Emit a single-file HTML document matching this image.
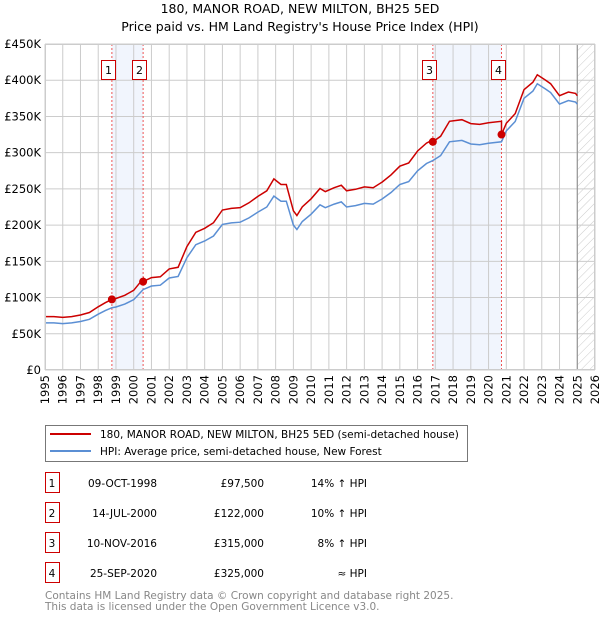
<!DOCTYPE html>
<html><head><meta charset="utf-8"><style>
body{margin:0;background:#fff;font-family:"DejaVu Sans","Liberation Sans",sans-serif;}
svg text{font-family:"DejaVu Sans","Liberation Sans",sans-serif;}
</style></head><body>
<svg id="c" width="600" height="620" viewBox="0 0 600 620" xmlns="http://www.w3.org/2000/svg">
<defs><pattern id="hatch" width="6" height="6" patternUnits="userSpaceOnUse" patternTransform="rotate(45)"><line x1="0" y1="0" x2="0" y2="6" stroke="#ccc" stroke-width="1"/></pattern></defs>
<text x="300" y="13" text-anchor="middle" font-size="12.5">180, MANOR ROAD, NEW MILTON, BH25 5ED</text>
<text x="300" y="31" text-anchor="middle" font-size="12.5">Price paid vs. HM Land Registry's House Price Index (HPI)</text>
<g id="plot"></g>
<g>
<rect x="45.5" y="425.5" width="422" height="36" fill="#fff" stroke="#777"/>
<line x1="50" y1="434" x2="91" y2="434" stroke="#cc0000" stroke-width="2"/>
<text x="100" y="438" font-size="10.5">180, MANOR ROAD, NEW MILTON, BH25 5ED (semi-detached house)</text>
<line x1="50" y1="451" x2="91" y2="451" stroke="#5b8fd4" stroke-width="2"/>
<text x="100" y="455" font-size="10.5">HPI: Average price, semi-detached house, New Forest</text>
</g>
<g id="table" font-size="10.5"></g>
<text x="45" y="599" font-size="10.5" fill="#888">Contains HM Land Registry data © Crown copyright and database right 2025.</text>
<text x="45" y="610" font-size="10.5" fill="#888">This data is licensed under the Open Government Licence v3.0.</text>
</svg>
<script>
const hpiYears=[1995,1995.5,1996,1996.5,1997,1997.5,1998,1998.4,1998.77,1999,1999.5,2000,2000.53,2001,2001.5,2002,2002.5,2003,2003.5,2004,2004.5,2005,2005.5,2006,2006.5,2007,2007.5,2007.9,2008.3,2008.6,2009,2009.2,2009.5,2010,2010.5,2010.8,2011.3,2011.7,2012,2012.5,2013,2013.5,2014,2014.5,2015,2015.5,2016,2016.5,2016.86,2017.3,2017.8,2018.5,2019,2019.5,2020,2020.73,2021,2021.5,2022,2022.5,2022.75,2023.2,2023.5,2024,2024.5,2024.9,2025.0];
const hpiValues=[65,65,64,65,67,70,77,82,86,87,91,97,111,116,117,127,129,155,173,178,185,201,203,204,210,218,225,240,233,233,200,194,205,215,228,224,229,232,225,227,230,229,236,245,256,260,275,285,289,296,315,317,312,311,313,315,330,343,375,385,395,388,383,367,372,370,367];
const saleLabels=["1","2","3","4"];
const saleDates=[1998.77,2000.53,2016.86,2020.73];
const saleDateText=["09-OCT-1998","14-JUL-2000","10-NOV-2016","25-SEP-2020"];
const salePrices=[97500,122000,315000,325000];
const salePriceText=["£97,500","£122,000","£315,000","£325,000"];
const saleHpiText=["14% ↑ HPI","10% ↑ HPI","8% ↑ HPI","≈ HPI"];
const yTicks=[0,50,100,150,200,250,300,350,400,450];
const yTickLabels=["£0","£50K","£100K","£150K","£200K","£250K","£300K","£350K","£400K","£450K"];
const xTicks=[1995,1996,1997,1998,1999,2000,2001,2002,2003,2004,2005,2006,2007,2008,2009,2010,2011,2012,2013,2014,2015,2016,2017,2018,2019,2020,2021,2022,2023,2024,2025,2026];

const X0=45,X1=595,Y0=370,Y1=44,xMin=1995,xMax=2026,yMax=450;
const xs=v=>X0+(v-xMin)/(xMax-xMin)*(X1-X0);
const ys=v=>Y0-v/yMax*(Y0-Y1);
const NS="http://www.w3.org/2000/svg";
const plot=document.getElementById('plot');
function mk(tag,attrs,parent){const e=document.createElementNS(NS,tag);for(const k in attrs)e.setAttribute(k,attrs[k]);(parent||plot).appendChild(e);return e;}
function hpiAt(t){for(let i=1;i<hpiYears.length;i++){if(t<=hpiYears[i]){const f=(t-hpiYears[i-1])/(hpiYears[i]-hpiYears[i-1]);return hpiValues[i-1]+f*(hpiValues[i]-hpiValues[i-1]);}}return hpiValues[hpiValues.length-1];}

for(let i=0;i<saleDates.length;i+=2){
 const r=mk('rect',{x:xs(saleDates[i]),y:Y1,width:xs(saleDates[i+1])-xs(saleDates[i]),height:Y0-Y1,fill:'#eef3fc',opacity:0.8});
 
 
}
const h=mk('rect',{x:xs(2025),y:Y1,width:X1-xs(2025),height:Y0-Y1,fill:'url(#hatch)'});


yTicks.forEach((v,i)=>{
 const l=mk('line',{x1:X0,x2:X1,y1:ys(v),y2:ys(v),stroke:'#ccc','stroke-width':1});
 
 
 const t=mk('text',{x:X0-4,y:ys(v)+4,'text-anchor':'end','font-size':11.5});
 t.textContent=yTickLabels[i];
 
 
});
xTicks.forEach(v=>{
 const l=mk('line',{x1:xs(v),x2:xs(v),y1:Y1,y2:Y0,stroke:'#ccc','stroke-width':1});
 
 
 const t=mk('text',{x:0,y:0,'text-anchor':'end','font-size':11.5,transform:`translate(${xs(v)+4},${Y0+5}) rotate(-90)`});
 t.textContent=v;
 
 
});
const nl=mk('line',{x1:xs(2025),x2:xs(2025),y1:Y1,y2:Y0,stroke:'#888','stroke-width':1});


saleDates.forEach((d,i)=>{
 const l=mk('line',{x1:xs(d),x2:xs(d),y1:Y1,y2:Y0,stroke:'#ee5555','stroke-width':1,'stroke-dasharray':'2,2'});
 
 
 const bx=Math.round(xs(d))-10.5;
 const b=mk('rect',{x:bx,y:60.5,width:14,height:19,fill:'#fff',stroke:'#cc0000'});
 
 
 const t=mk('text',{x:bx+7,y:74,'text-anchor':'middle','font-size':11});
 t.textContent=saleLabels[i];
 
 
});
let p='';hpiYears.forEach((y,i)=>{p+=(i?'L':'M')+xs(y).toFixed(1)+','+ys(hpiValues[i]).toFixed(1);});
const hl=mk('path',{d:p,fill:'none',stroke:'#5b8fd4','stroke-width':1.5});


function ratioAt(t){let k=0;for(let i=0;i<saleDates.length;i++)if(t>=saleDates[i])k=i;return salePrices[k]/1000/hpiAt(saleDates[k]);}
const pts=[];
hpiYears.forEach((y,i)=>{
 saleDates.forEach((d,j)=>{if(i>0&&d>hpiYears[i-1]&&d<=y){pts.push([d-0.001,hpiAt(d)*ratioAt(d-0.001)]);pts.push([d,salePrices[j]/1000]);}});
 pts.push([y,hpiValues[i]*ratioAt(y)]);
});
let q='';pts.forEach((a,i)=>{q+=(i?'L':'M')+xs(a[0]).toFixed(1)+','+ys(a[1]).toFixed(1);});
const pl=mk('path',{d:q,fill:'none',stroke:'#cc0000','stroke-width':1.5});


saleDates.forEach((d,i)=>{
 const c=mk('circle',{cx:xs(d),cy:ys(salePrices[i]/1000),r:4,fill:'#cc0000'});
 
 
});
const fr=mk('rect',{x:X0+0.5,y:Y1+0.5,width:X1-X0-1,height:Y0-Y1-1,fill:'none',stroke:'#ccc'});


const tb=document.getElementById('table');
saleLabels.forEach((s,i)=>{
 const cy=483+i*30;
 const r=mk('rect',{x:45.5,y:cy-10.5,width:14,height:20,fill:'#fff',stroke:'#cc0000'},tb);
 
 
 const cells=[[52,'middle',s],[157,'end',saleDateText[i]],[264,'end',salePriceText[i]],[367,'end',saleHpiText[i]]];
 cells.forEach((c,k)=>{
  const t=mk('text',{x:c[0],y:cy+4,'text-anchor':c[1]},tb);
  t.textContent=c[2];
  
  
 });
});
</script>
</body></html>
